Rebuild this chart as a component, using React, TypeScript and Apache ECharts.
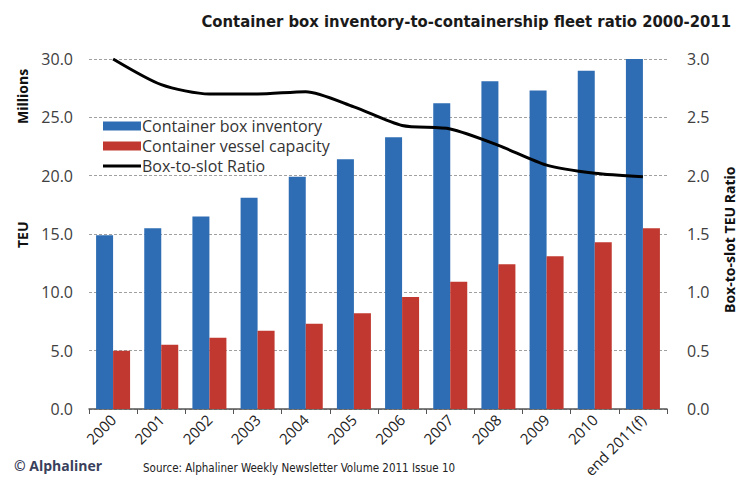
import React, { useEffect, useRef } from "react";
import * as echarts from "echarts";

const categories = ["2000", "2001", "2002", "2003", "2004", "2005", "2006", "2007", "2008", "2009", "2010", "end 2011(f)"];
const boxInventory = [14.9, 15.5, 16.5, 18.1, 19.9, 21.4, 23.3, 26.2, 28.1, 27.3, 29.0, 30.0];
const vesselCapacity = [5.0, 5.5, 6.1, 6.7, 7.3, 8.2, 9.6, 10.9, 12.4, 13.1, 14.3, 15.5];
const boxToSlotRatio = [3.0, 2.78, 2.7, 2.7, 2.72, 2.59, 2.43, 2.4, 2.26, 2.09, 2.02, 1.99];

const TEXT = "#404040";
const FONT = "'Open Sans', 'Liberation Sans', sans-serif";
const NARROW = "'Liberation Sans Narrow', 'DejaVu Sans Condensed', sans-serif";

export default function App() {
  const ref = useRef<HTMLDivElement>(null);
  useEffect(() => {
    if (!ref.current) return;
    const chart = echarts.init(ref.current, null, { renderer: "svg" });
    chart.setOption({
      animation: false,
      backgroundColor: "#ffffff",
      textStyle: { fontFamily: FONT },
      title: {
        text: "Container box inventory-to-containership fleet ratio 2000-2011",
        right: 3,
        top: 8,
        textStyle: { fontFamily: NARROW, fontSize: 16.5, fontWeight: "bold", color: "#1a1a1a" },
      },
      legend: {
        left: 98,
        top: 113,
        orient: "vertical",
        itemGap: 4,
        itemWidth: 38,
        itemHeight: 9,
        symbolKeepAspect: false,
        textStyle: { fontFamily: FONT, fontSize: 16, lineHeight: 16, color: "#333", padding: [0, 0, 0, -4] },
        data: [
          { name: "Container box inventory", icon: "rect" },
          { name: "Container vessel capacity", icon: "rect" },
          { name: "Box-to-slot Ratio", icon: "path://M0,0L0.01,0M0,3H38V6H0ZM0,9L0.01,9", itemStyle: { color: "#000" } },
        ],
      },
      grid: { left: 89, right: 72, top: 59, bottom: 81 },
      xAxis: {
        type: "category",
        data: categories,
        axisLine: { lineStyle: { color: "#555", width: 1.5 } },
        axisTick: { show: true, length: 5, lineStyle: { color: "#555" } },
        axisLabel: { rotate: 45, fontSize: 15, color: "#222", fontFamily: FONT, margin: 8 },
      },
      yAxis: [
        {
          type: "value",
          min: 0,
          max: 30,
          interval: 5,
          axisLine: { show: false },
          axisTick: { show: false },
          axisLabel: { formatter: (v: number) => v.toFixed(1), fontSize: 16, color: TEXT, margin: 16 },
          splitLine: { lineStyle: { color: "#a0a0a0", type: [3, 2], width: 1 } },
        },
        {
          type: "value",
          min: 0,
          max: 3,
          interval: 0.5,
          position: "right",
          axisLine: { show: false },
          axisTick: { show: false },
          axisLabel: { formatter: (v: number) => v.toFixed(1), fontSize: 16, color: TEXT, margin: 20 },
          splitLine: { show: false },
        },
      ],
      graphic: [
        {
          type: "text",
          x: 15,
          y: 124,
          rotation: Math.PI / 2,
          style: { text: "Millions", fontFamily: FONT, fontSize: 14, fontWeight: "bold", fill: "#111" },
        },
        {
          type: "text",
          x: 15,
          y: 248,
          rotation: Math.PI / 2,
          style: { text: "TEU", fontFamily: FONT, fontSize: 14, fontWeight: "bold", fill: "#111" },
        },
        {
          type: "text",
          x: 722,
          y: 313,
          rotation: Math.PI / 2,
          style: { text: "Box-to-slot TEU Ratio", fontFamily: FONT, fontSize: 14, fontWeight: "bold", fill: "#111" },
        },
        {
          type: "text",
          left: 14,
          top: 458,
          style: { text: "© Alphaliner", fontFamily: FONT, fontSize: 14, fontWeight: "bold", fill: "#3a3f5c" },
        },
        {
          type: "text",
          left: 143,
          top: 462,
          style: { text: "Source: Alphaliner Weekly Newsletter Volume 2011 Issue 10", fontFamily: NARROW, fontSize: 11.5, fill: "#222" },
        },
      ],
      series: [
        {
          name: "Container box inventory",
          type: "bar",
          data: boxInventory,
          barWidth: 17,
          barGap: "0%",
          itemStyle: { color: "#2e6db4" },
        },
        {
          name: "Container vessel capacity",
          type: "bar",
          data: vesselCapacity,
          barWidth: 17,
          barGap: "0%",
          itemStyle: { color: "#c0382f" },
        },
        {
          name: "Box-to-slot Ratio",
          type: "line",
          yAxisIndex: 1,
          data: boxToSlotRatio,
          smooth: 0.25,
          symbol: "none",
          lineStyle: { color: "#000", width: 3 },
          itemStyle: { color: "#000" },
        },
      ],
    });
    return () => chart.dispose();
  }, []);
  return <div ref={ref} style={{ width: 739, height: 490, position: "absolute", left: 0, top: 0 }} />;
}
